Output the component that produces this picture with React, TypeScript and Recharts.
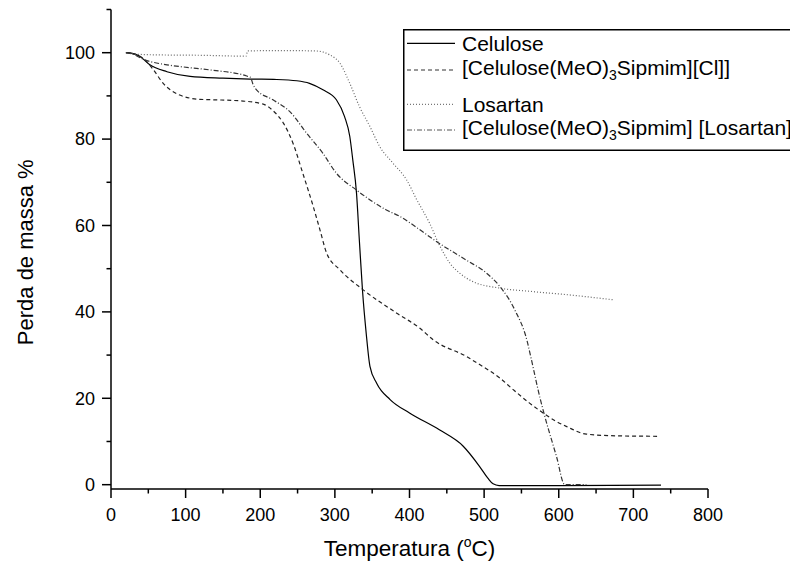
import React from 'react';
import { LineChart, Line, XAxis, YAxis, Legend } from 'recharts';

const FONT = "Arial, 'Liberation Sans', sans-serif";

const celuloseT = [20, 30, 39, 52, 75, 106, 150, 186, 222, 249, 266, 284, 302, 313, 320, 324, 329, 333, 337, 342, 347, 356, 374, 400, 440, 472, 494, 505, 512, 520, 600, 737];
const celuloseM = [100, 99.8, 99.1, 97.2, 95.6, 94.5, 94.1, 93.9, 93.8, 93.5, 92.9, 91.4, 89.1, 85.2, 80.6, 75.2, 67.5, 56, 45, 35, 27.4, 23.5, 19.7, 16.6, 12.7, 8.9, 4.2, 1.5, 0.2, -0.2, -0.2, -0.1];

const clT = [20, 35, 48, 57, 70, 92, 119, 137, 177, 204, 217, 231, 244, 257, 271, 280, 289, 307, 338, 383, 414, 432, 476, 494, 521, 539, 560, 579, 595, 610, 637, 680, 735];
const clM = [100, 99.5, 97.9, 96, 92.9, 90.2, 89.2, 89.1, 88.8, 88.1, 86.6, 83.7, 79, 72.1, 64.4, 59, 53.6, 49.7, 45.1, 39.7, 36.2, 33.5, 29.7, 27.8, 24.7, 22, 19, 16.6, 14.8, 13.5, 11.7, 11.3, 11.2];

const losartanT = [20, 30, 60, 120, 181, 183, 230, 275, 293, 307, 320, 333, 347, 360, 378, 396, 409, 427, 440, 454, 467, 485, 521, 565, 610, 673];
const losartanM = [100, 99.7, 99.5, 99.4, 99.2, 100.4, 100.5, 100.4, 99.5, 97.5, 92.9, 87.5, 82.9, 78.3, 74.4, 70.6, 66.2, 60.5, 55.5, 51.3, 49, 47, 45.5, 44.7, 44, 42.8];

const hibridoT = [20, 30, 43, 75, 92, 133, 182, 187, 190, 195, 217, 240, 262, 284, 302, 329, 369, 387, 414, 436, 476, 503, 521, 541, 558, 562, 575, 579, 597, 608, 637];
const hibridoM = [100, 99.6, 98.5, 97.2, 96.8, 96, 94.6, 94.3, 92.8, 91.4, 89.1, 86.3, 81.4, 76.7, 72.1, 68.2, 63.6, 62.1, 59, 56.3, 52, 49, 45.9, 40.5, 33, 30, 20, 17.3, 6.5, 0, 0];

const xTicks = [0, 50, 100, 150, 200, 250, 300, 350, 400, 450, 500, 550, 600, 650, 700, 750, 800];
const yTicks = [0, 10, 20, 30, 40, 50, 60, 70, 80, 90, 100, 110];

const toData = (t: number[], m: number[]) => t.map((x, i) => ({ x, y: m[i] }));

const celuloseData = toData(celuloseT, celuloseM);
const clData = toData(clT, clM);
const losartanData = toData(losartanT, losartanM);
const hibridoData = toData(hibridoT, hibridoM);

const XTick = (props: any) => {
  const { x, y, payload } = props;
  const v = payload.value;
  const major = v % 100 === 0;
  return (
    <g>
      <line x1={x} x2={x} y1={y} y2={y + (major ? 9 : 4.5)} stroke="#000" strokeWidth={1.5} />
      {major && (
        <text x={x} y={y + 19} dy="0.71em" textAnchor="middle" fontSize={18} fontFamily={FONT} fill="#000">
          {v}
        </text>
      )}
    </g>
  );
};

const YTick = (props: any) => {
  const { x, y, payload } = props;
  const v = payload.value;
  const major = v % 20 === 0;
  return (
    <g>
      <line x1={x - (major ? 9 : 4.5)} x2={x} y1={y} y2={y} stroke="#000" strokeWidth={1.5} />
      {major && (
        <text x={x - 16} y={y} dy="0.355em" textAnchor="end" fontSize={18} fontFamily={FONT} fill="#000">
          {v}
        </text>
      )}
    </g>
  );
};

const XLabel = (props: any) => {
  const vb = props.viewBox;
  return (
    <text x={vb.x + vb.width / 2} y={vb.y + 66.5} textAnchor="middle" fontSize={22.5} fontFamily={FONT} fill="#000">
      Temperatura (<tspan dy={-9} fontSize={14}>o</tspan><tspan dy={9}>C)</tspan>
    </text>
  );
};

const YLabel = (props: any) => {
  const vb = props.viewBox;
  const cx = 24.5;
  const cy = vb.y + vb.height / 2 + 3;
  return (
    <text x={cx} y={cy} transform={`rotate(-90, ${cx}, ${cy})`} textAnchor="middle" fontSize={22} fontFamily={FONT} fill="#000">
      Perda de massa %
    </text>
  );
};

const LegendBox = () => {
  const rows = [14.3, 41, 75.3, 101];
  const lx1 = 4;
  const lx2 = 52;
  const tx = 59;
  const fs = 21;
  return (
    <svg width={400} height={122} style={{ display: 'block' }}>
      <rect x={0.75} y={0.75} width={420} height={120.5} fill="#fff" stroke="#000" strokeWidth={1.5} />
      <line x1={lx1} x2={lx2} y1={rows[0]} y2={rows[0]} stroke="#000" strokeWidth={1.2} />
      <text x={tx} y={rows[0] + 7.5} fontSize={fs} fontFamily={FONT} fill="#000">Celulose</text>
      <line x1={lx1} x2={lx2} y1={rows[1]} y2={rows[1]} stroke="#333" strokeWidth={1.2} strokeDasharray="4 3" />
      <text x={tx} y={rows[1] + 5} fontSize={fs} fontFamily={FONT} fill="#000">
        [Celulose(MeO)<tspan dy={5} fontSize={14}>3</tspan><tspan dy={-5}>Sipmim][Cl]]</tspan>
      </text>
      <line x1={lx1} x2={lx2} y1={rows[2]} y2={rows[2]} stroke="#777" strokeWidth={1.2} strokeDasharray="1 2" />
      <text x={tx} y={rows[2] + 7.5} fontSize={fs} fontFamily={FONT} fill="#000">Losartan</text>
      <line x1={lx1} x2={lx2} y1={rows[3]} y2={rows[3]} stroke="#555" strokeWidth={1.2} strokeDasharray="5 2 1 2" />
      <text x={tx} y={rows[3] + 5} fontSize={fs} fontFamily={FONT} fill="#000">
        [Celulose(MeO)<tspan dy={5} fontSize={14}>3</tspan><tspan dy={-5}>Sipmim] [Losartan]</tspan>
      </text>
    </svg>
  );
};

export default function App() {
  return (
    <div style={{ width: 790, height: 556, overflow: 'hidden', position: 'relative', background: '#fff' }}>
      <LineChart width={790} height={556} margin={{ top: 1.5, right: 90, bottom: 0, left: 0 }}>
        <XAxis
          dataKey="x"
          type="number"
          domain={[0, 800]}
          ticks={xTicks}
          interval={0}
          allowDataOverflow
          height={75}
          tickLine={false}
          tickSize={0}
          tickMargin={0}
          tick={XTick}
          axisLine={{ stroke: '#000', strokeWidth: 1.5 }}
          label={<XLabel />}
        />
        <YAxis
          dataKey="y"
          type="number"
          domain={[-1, 110]}
          ticks={yTicks}
          interval={0}
          allowDataOverflow
          width={103}
          tickLine={false}
          tickSize={0}
          tickMargin={0}
          tick={YTick}
          axisLine={{ stroke: '#000', strokeWidth: 1.5 }}
          label={<YLabel />}
        />
        <Legend
          layout="horizontal"
          verticalAlign="middle"
          align="center"
          wrapperStyle={{ left: 395, top: 21, width: 400, height: 122 }}
          content={() => <LegendBox />}
        />
        <Line data={celuloseData} dataKey="y" name="Celulose" type="monotone" stroke="#000" strokeWidth={1.2} dot={false} isAnimationActive={false} />
        <Line data={clData} dataKey="y" name="[Celulose(MeO)3Sipmim][Cl]]" type="monotone" stroke="#222" strokeWidth={1.2} strokeDasharray="4 3" dot={false} isAnimationActive={false} />
        <Line data={losartanData} dataKey="y" name="Losartan" type="monotone" stroke="#666" strokeWidth={1.2} strokeDasharray="1 2" dot={false} isAnimationActive={false} />
        <Line data={hibridoData} dataKey="y" name="[Celulose(MeO)3Sipmim] [Losartan]" type="monotone" stroke="#333" strokeWidth={1.2} strokeDasharray="5 2 1 2" dot={false} isAnimationActive={false} />
      </LineChart>
    </div>
  );
}
